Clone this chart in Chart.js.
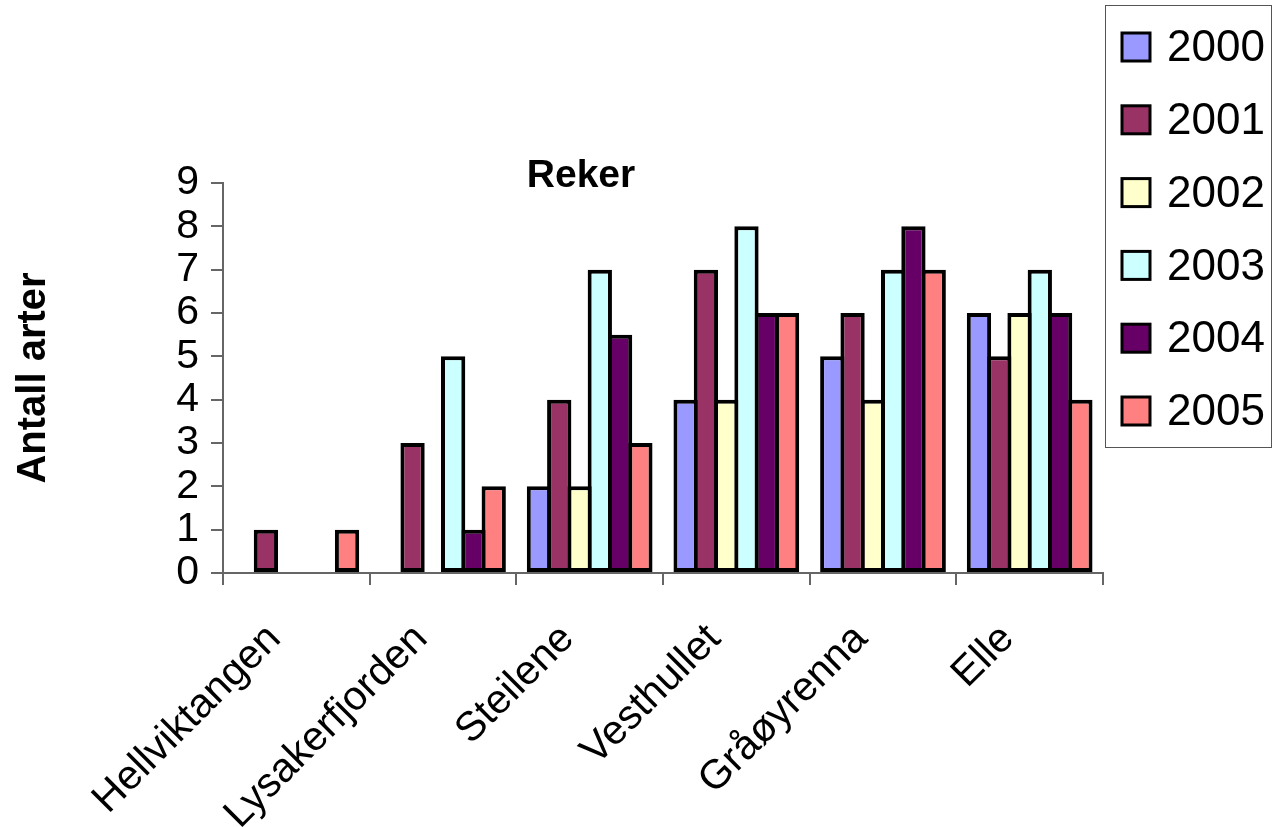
<!DOCTYPE html>
<html>
<head>
<meta charset="utf-8">
<title>Reker</title>
<script src="https://cdn.jsdelivr.net/npm/chart.js@4.4.0/dist/chart.umd.min.js"></script>
<style>
	html, body { margin: 0; padding: 0; background: #fff; }
	#chart { display: block; }
</style>
</head>
<body>
<canvas id="chart" width="1274" height="827"></canvas>
<script>
// data
const sites = ["Hellviktangen", "Lysakerfjorden", "Steilene", "Vesthullet", "Gråøyrenna", "Elle"];
const years = ["2000", "2001", "2002", "2003", "2004", "2005"];
const v2000 = [0, 0, 2, 4, 5, 6];
const v2001 = [1, 3, 4, 7, 6, 5];
const v2002 = [0, 0, 2, 4, 4, 6];
const v2003 = [0, 5, 7, 8, 7, 7];
const v2004 = [0, 1, 5.5, 6, 8, 6];
const v2005 = [1, 2, 3, 6, 7, 4];
const yMin = 0;
const yMax = 9;
const yStep = 1;

const colors = ["#9999FF", "#993366", "#FFFFCC", "#CCFFFF", "#660066", "#FF8080"];
const FONT = "'Liberation Sans', Arial, sans-serif";

Chart.defaults.font.family = FONT;
Chart.defaults.color = "#000";

// bars overlap by one border width, like Excel
const catPct = 0.83;
const border = 4;
const slot = (880 / sites.length) * catPct / years.length;
const barPct = (slot + border) / slot;

const series = [v2000, v2001, v2002, v2003, v2004, v2005];

// title "Reker" and the boxed legend
const decor = {
	id: "decor",
	afterDraw(chart) {
		const ctx = chart.ctx;
		ctx.save();
		ctx.fillStyle = "#000";
		ctx.font = "bold 39px " + FONT;
		ctx.textAlign = "center";
		ctx.textBaseline = "alphabetic";
		ctx.fillText("Reker", 581, 187);

		ctx.strokeStyle = "#555";
		ctx.lineWidth = 1;
		ctx.strokeRect(1105.5, 5.5, 166, 442);

		ctx.font = "44px " + FONT;
		ctx.textAlign = "left";
		ctx.textBaseline = "middle";
		chart.data.datasets.forEach((ds, i) => {
			const cy = 47 + i * 72.8;
			ctx.fillStyle = ds.backgroundColor;
			ctx.fillRect(1122, cy - 14, 28, 28);
			ctx.lineWidth = 3;
			ctx.strokeStyle = "#000";
			ctx.strokeRect(1122, cy - 14, 28, 28);
			ctx.fillStyle = "#000";
			ctx.fillText(ds.label, 1167, cy + 2);
		});
		ctx.restore();
	},
};

new Chart(document.getElementById("chart"), {
	type: "bar",
	data: {
		labels: sites,
		datasets: years.map((y, i) => ({
			label: y,
			data: series[i],
			backgroundColor: colors[i],
			borderColor: "#000",
			borderWidth: border,
			borderSkipped: false,
			categoryPercentage: catPct,
			barPercentage: barPct,
		})),
	},
	options: {
		responsive: false,
		animation: false,
		devicePixelRatio: 1,
		layout: {
			padding: { left: 0, top: 183, right: 171, bottom: 0 },
		},
		plugins: {
			legend: { display: false },
			title: { display: false },
			tooltip: { enabled: false },
		},
		scales: {
			x: {
				grid: {
					offset: true,
					drawOnChartArea: false,
					drawTicks: true,
					tickLength: 12,
					color: "#666",
					lineWidth: 2,
				},
				border: { display: true, color: "#666", width: 2 },
				ticks: {
					autoSkip: false,
					maxRotation: 45,
					minRotation: 45,
					padding: 30,
					labelOffset: -22,
					font: { size: 41 },
					color: "#000",
				},
				afterFit(scale) {
					scale.height = 827 - 573;
				},
			},
			y: {
				min: yMin,
				max: yMax,
				grid: {
					drawOnChartArea: false,
					drawTicks: true,
					tickLength: 12,
					color: "#666",
					lineWidth: 2,
				},
				border: { display: true, color: "#666", width: 2 },
				ticks: {
					autoSkip: false,
					stepSize: yStep,
					padding: 12,
					font: { size: 41 },
					color: "#000",
				},
				title: {
					display: true,
					text: "Antall arter",
					font: { size: 40, weight: "bold" },
					padding: { top: 10, bottom: 0 },
					color: "#000",
				},
				afterFit(scale) {
					scale.width = 223;
				},
			},
		},
	},
	plugins: [decor],
});
</script>
</body>
</html>
